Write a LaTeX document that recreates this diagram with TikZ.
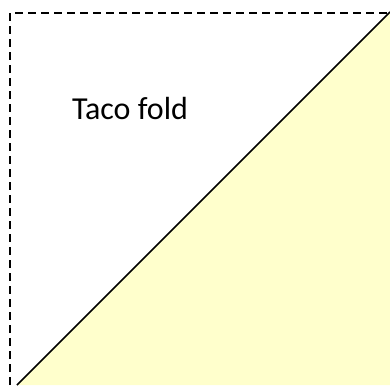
\documentclass[tikz,border=0pt]{standalone}
\usepackage{fontspec}
\setmainfont{Carlito}
\usetikzlibrary{positioning}
\definecolor{tacoyellow}{RGB}{255,255,204}

\begin{document}
\begin{tikzpicture}[x=1pt,y=1pt]
  \useasboundingbox (0,0) rectangle (390,385);
  % folded half of the tortilla
  \coordinate (foldlo) at (17,0);
  \coordinate (foldhi) at (390,373);
  \coordinate (corner) at (390,0);
  \fill[tacoyellow] (foldlo) -- (foldhi) -- (corner) -- cycle;
  \draw[line width=1.6pt] (foldlo) -- (foldhi);
  % open paper edges
  \draw[line width=1.6pt, dash pattern=on 8pt off 5pt] (10,0) -- (10,372) -- (390,372);
  \node[font=\fontsize{32}{38}\selectfont, anchor=base] (label) at (130,265) {Taco fold};
\end{tikzpicture}
\end{document}
